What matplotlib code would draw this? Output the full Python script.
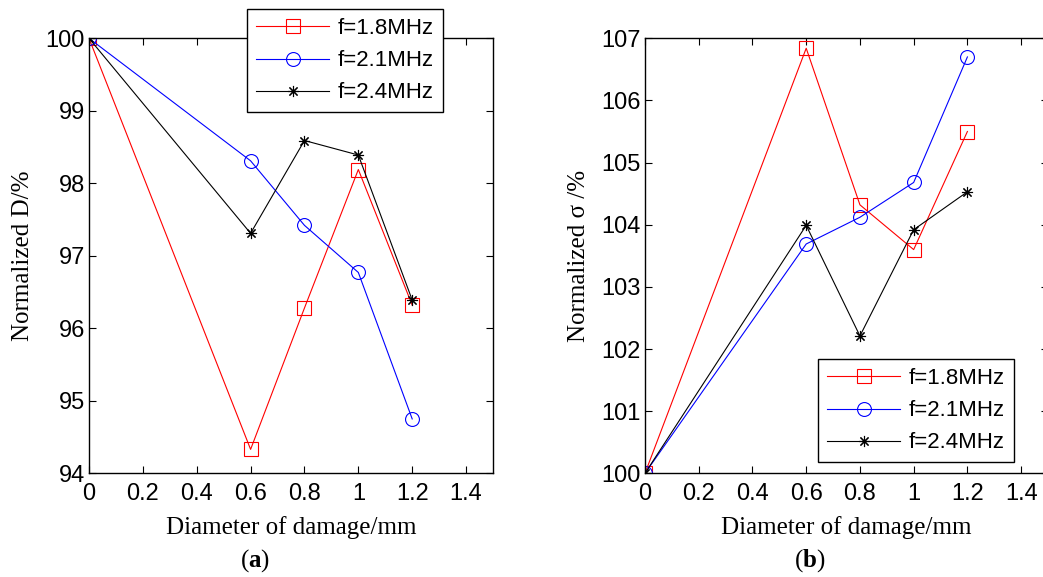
import matplotlib
matplotlib.use("Agg")
import matplotlib.pyplot as plt

plt.rcParams["mathtext.fontset"] = "custom"
plt.rcParams["mathtext.bf"] = "Liberation Serif:bold"
plt.rcParams["mathtext.rm"] = "Liberation Serif"

x = [0, 0.6, 0.8, 1.0, 1.2]
labels = ["f=1.8MHz", "f=2.1MHz", "f=2.4MHz"]
colors = ["#ff0000", "#0000ff", "#000000"]
markers = ["s", "o", (8, 2, 0)]

D_18 = [100, 94.33, 96.28, 98.19, 96.32]
D_21 = [100, 98.31, 97.42, 96.77, 94.75]
D_24 = [100, 97.31, 98.59, 98.39, 96.39]

S_18 = [100, 106.84, 104.32, 103.60, 105.50]
S_21 = [100, 103.69, 104.12, 104.68, 106.70]
S_24 = [100, 103.99, 102.21, 103.92, 104.53]

W, H = 1043, 577
fig = plt.figure(figsize=(W / 100, H / 100), dpi=100)

tick_font = dict(family="Liberation Sans", size=17)
label_font = dict(family="Liberation Serif", size=18)


def make_axes(left_px, width_px, data, ylim, yticks, ylabel, legend_xy, caption, cap_x):
    ax = fig.add_axes([left_px / W, (H - 473.3) / H, width_px / W, 435 / H])
    for ys, c, m, lab in zip(data, colors, markers, labels):
        ms = 10 if m in ("s", "o") else 8
        ax.plot(x, ys, color=c, marker=m, markersize=ms, markerfacecolor="none",
                markeredgecolor=c, markeredgewidth=0.8, linewidth=0.8, label=lab)
    ax.set_xlim(0, 1.5)
    ax.set_ylim(*ylim)
    ax.set_xticks([0, 0.2, 0.4, 0.6, 0.8, 1.0, 1.2, 1.4])
    ax.set_xticklabels(["0", "0.2", "0.4", "0.6", "0.8", "1", "1.2", "1.4"], **tick_font)
    ax.set_yticks(yticks)
    ax.set_yticklabels([str(v) for v in yticks], **tick_font)
    ax.tick_params(axis="x", direction="in", top=True, length=5, width=0.8, pad=7)
    ax.tick_params(axis="y", direction="in", right=True, length=5, width=0.8, pad=3)
    for s in ax.spines.values():
        s.set_linewidth(1.0)
    ax.set_xlabel("Diameter of damage/mm", **label_font, labelpad=8)
    ax.set_ylabel(ylabel, **label_font, labelpad=8)
    leg = ax.legend(loc="upper left", bbox_to_anchor=legend_xy, bbox_transform=fig.transFigure,
                    borderaxespad=0, fancybox=False, framealpha=1, edgecolor="black",
                    prop=dict(family="Liberation Sans", size=16), handlelength=3.3,
                    handletextpad=0.4, labelspacing=0.5, borderpad=0.4)
    leg.get_frame().set_linewidth(1.0)
    fig.text(cap_x / W, 1 - 561 / H, caption, ha="center", va="center",
             family="Liberation Serif", size=18)
    return ax


make_axes(89, 404, [D_18, D_21, D_24], (94, 100), [94, 95, 96, 97, 98, 99, 100],
          "Normalized D/%", (247 / W, 1 - 9.3 / H), "$\\mathrm{(}\\mathbf{a}\\mathrm{)}$", 255)
make_axes(645, 403, [S_18, S_21, S_24], (100, 107), [100, 101, 102, 103, 104, 105, 106, 107],
          "Normalized σ /%", (818 / W, 1 - 359.3 / H), "$\\mathrm{(}\\mathbf{b}\\mathrm{)}$", 810)

fig.savefig("out.png", dpi=100)
